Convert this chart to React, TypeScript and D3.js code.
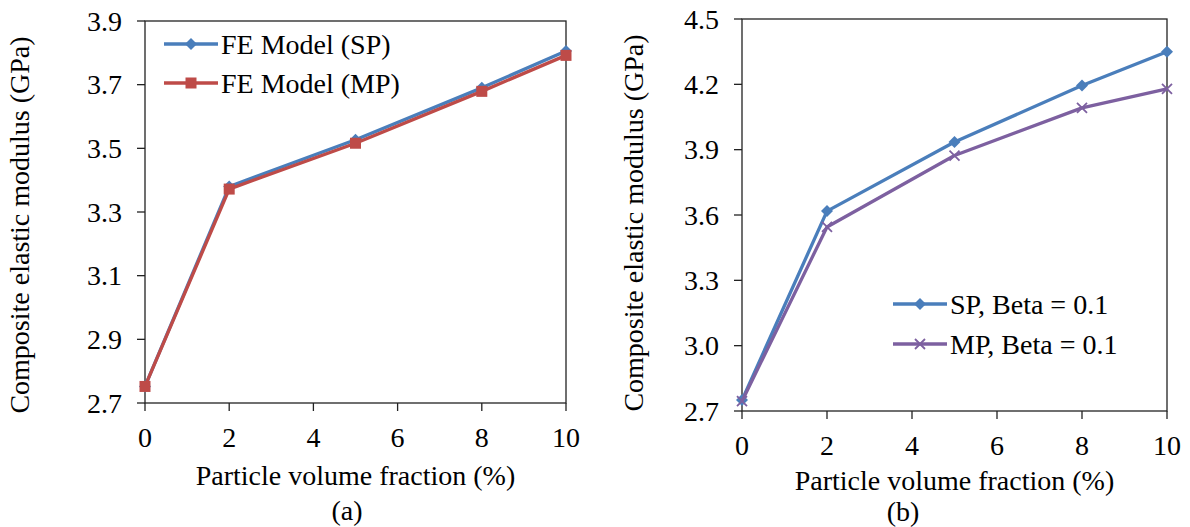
import React from 'react';
import * as d3 from 'd3';

const fractions = [0, 2, 5, 8, 10];
const xTicks = [0, 2, 4, 6, 8, 10];

// panel (a)
const feSP = [2.752, 3.38, 3.527, 3.69, 3.806];
const feMP = [2.752, 3.372, 3.516, 3.679, 3.792];
const yTicksA = [2.7, 2.9, 3.1, 3.3, 3.5, 3.7, 3.9];

// panel (b)
const betaSP = [2.75, 3.618, 3.935, 4.195, 4.35];
const betaMP = [2.745, 3.545, 3.873, 4.092, 4.179];
const yTicksB = [2.7, 3.0, 3.3, 3.6, 3.9, 4.2, 4.5];

const BLUE = '#4a7ebb';
const RED = '#be4b48';
const PURPLE = '#7d60a0';
const FONT = "'Liberation Serif', 'Times New Roman', 'DejaVu Serif', serif";
const FS = 28;

type Series = { name: string; values: number[]; color: string; marker: string };

const Marker = ({ kind, x, y, color }: { kind: string; x: number; y: number; color: string }) => {
  if (kind === 'diamond') {
    const r = 6;
    return <path d={`M${x},${y - r}L${x + r},${y}L${x},${y + r}L${x - r},${y}Z`} fill={color} />;
  }
  if (kind === 'square') {
    const r = 5.5;
    return <rect x={x - r} y={y - r} width={2 * r} height={2 * r} fill={color} />;
  }
  const r = 5;
  return (
    <path d={`M${x - r},${y - r}L${x + r},${y + r}M${x - r},${y + r}L${x + r},${y - r}`}
      stroke={color} strokeWidth={1.8} fill="none" />
  );
};

const Panel = (props: {
  left: number; right: number; top: number; bottom: number;
  yDomain: [number, number]; yTicks: number[]; fmt: string;
  series: Series[]; legend: { x: number; y: number; gap: number };
  titleX: number; titleY: number; tickY: number; axisTitleY: number;
  caption: string; captionX: number; captionY: number;
}) => {
  const x = d3.scaleLinear().domain([0, 10]).range([props.left, props.right]);
  const y = d3.scaleLinear().domain(props.yDomain).range([props.bottom, props.top]);
  const line = d3.line<number>().x((_, i) => x(fractions[i])).y(d => y(d));
  const f = d3.format(props.fmt);
  return (
    <g fill="#000">
      <rect x={props.left} y={props.top} width={props.right - props.left} height={props.bottom - props.top}
        fill="none" stroke="#222" strokeWidth={1.3} />
      {props.yTicks.map(t => (
        <g key={'y' + t}>
          <line x1={props.left - 8} x2={props.left} y1={y(t)} y2={y(t)} stroke="#222" strokeWidth={1.3} />
          <text x={props.left - 23} y={y(t)} textAnchor="end" dominantBaseline="central" fontSize={FS}>{f(t)}</text>
        </g>
      ))}
      {xTicks.map(t => (
        <g key={'x' + t}>
          <line x1={x(t)} x2={x(t)} y1={props.bottom} y2={props.bottom + 8} stroke="#222" strokeWidth={1.3} />
          <text x={x(t)} y={props.tickY} textAnchor="middle" dominantBaseline="central" fontSize={FS}>{t}</text>
        </g>
      ))}
      {props.series.map(s => (
        <g key={s.name}>
          <path d={line(s.values) || ''} fill="none" stroke={s.color} strokeWidth={3.3} strokeLinejoin="round" />
          {s.values.map((v, i) => <Marker key={i} kind={s.marker} x={x(fractions[i])} y={y(v)} color={s.color} />)}
        </g>
      ))}
      {props.series.map((s, i) => {
        const ly = props.legend.y + i * props.legend.gap;
        return (
          <g key={'lg' + s.name}>
            <line x1={props.legend.x} x2={props.legend.x + 54} y1={ly} y2={ly} stroke={s.color} strokeWidth={3.3} />
            <Marker kind={s.marker} x={props.legend.x + 27} y={ly} color={s.color} />
            <text x={props.legend.x + 57} y={ly} dominantBaseline="central" fontSize={FS}>{s.name}</text>
          </g>
        );
      })}
      <text transform={`translate(${props.titleX},${props.titleY}) rotate(-90)`} textAnchor="middle"
        dominantBaseline="central" fontSize={FS}>Composite elastic modulus (GPa)</text>
      <text x={(props.left + props.right) / 2} y={props.axisTitleY} textAnchor="middle"
        dominantBaseline="central" fontSize={FS}>Particle volume fraction (%)</text>
      <text x={props.captionX} y={props.captionY} textAnchor="middle" dominantBaseline="central" fontSize={FS}>{props.caption}</text>
    </g>
  );
};

export default function App() {
  return (
    <svg width={1190} height={527}
      style={{ position: 'absolute', left: 0, top: 0, background: '#fff', fontFamily: FONT }}>
      <Panel left={145} right={566} top={21} bottom={403} yDomain={[2.7, 3.9]} yTicks={yTicksA} fmt=".1f"
        series={[
          { name: 'FE Model (SP)', values: feSP, color: BLUE, marker: 'diamond' },
          { name: 'FE Model (MP)', values: feMP, color: RED, marker: 'square' },
        ]}
        legend={{ x: 164, y: 44, gap: 39 }}
        titleX={19} titleY={225} tickY={437} axisTitleY={475}
        caption="(a)" captionX={347} captionY={510} />
      <Panel left={742} right={1167} top={19} bottom={411} yDomain={[2.7, 4.5]} yTicks={yTicksB} fmt=".1f"
        series={[
          { name: 'SP, Beta = 0.1', values: betaSP, color: BLUE, marker: 'diamond' },
          { name: 'MP, Beta = 0.1', values: betaMP, color: PURPLE, marker: 'x' },
        ]}
        legend={{ x: 893, y: 304, gap: 40 }}
        titleX={633} titleY={223} tickY={445} axisTitleY={480}
        caption="(b)" captionX={903} captionY={511} />
    </svg>
  );
}
